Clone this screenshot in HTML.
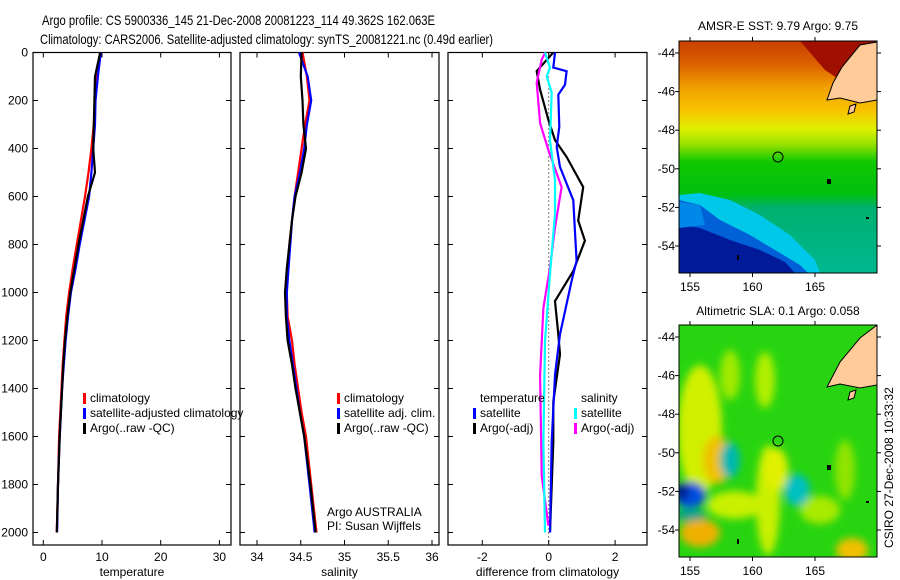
<!DOCTYPE html>
<html><head><meta charset="utf-8">
<style>
body{margin:0;background:#fff;}
svg{display:block;font-family:"Liberation Sans",sans-serif;}
text{font-size:12px;fill:#000;}
</style></head>
<body>
<svg id="fig" width="900" height="580" viewBox="0 0 900 580" xmlns="http://www.w3.org/2000/svg">
<defs>
<linearGradient id="sstg" x1="0" y1="0" x2="0" y2="1">
<stop offset="0" stop-color="#c84000"/><stop offset="0.1" stop-color="#dc6000"/>
<stop offset="0.2" stop-color="#f0a000"/><stop offset="0.3" stop-color="#f8c400"/>
<stop offset="0.38" stop-color="#e0f000"/><stop offset="0.45" stop-color="#90e000"/>
<stop offset="0.52" stop-color="#10c800"/><stop offset="0.66" stop-color="#00c010"/>
<stop offset="0.72" stop-color="#00b070"/><stop offset="1" stop-color="#00b890"/>
</linearGradient>
<filter id="blur" x="-50%" y="-50%" width="200%" height="200%"><feGaussianBlur stdDeviation="4"/></filter>
<clipPath id="cp1"><rect x="679" y="41" width="198" height="232"/></clipPath>
<clipPath id="cp2"><rect x="679" y="325" width="198" height="232"/></clipPath>
</defs>
<text x="42" y="25" style="font-size:14px" textLength="393" lengthAdjust="spacingAndGlyphs">Argo profile: CS 5900336_145 21-Dec-2008 20081223_114 49.362S 162.063E</text>
<text x="40" y="44" style="font-size:14px" textLength="453" lengthAdjust="spacingAndGlyphs">Climatology: CARS2006. Satellite-adjusted climatology: synTS_20081221.nc (0.49d earlier)</text>
<g id="panels"></g>

<!-- SST map -->
<g>
<text x="778" y="30" text-anchor="middle">AMSR-E SST: 9.79 Argo: 9.75</text>
<g clip-path="url(#cp1)">
<rect x="679" y="41" width="198" height="232" fill="url(#sstg)"/>
<polygon points="679,195 700,193 730,200 760,215 790,235 815,260 820,273 679,273" fill="#00c8e8"/>
<polygon points="679,200 700,205 720,220 750,235 775,250 800,265 808,273 679,273" fill="#0060d8"/>
<polygon points="679,225 700,228 730,240 760,250 785,262 795,273 679,273" fill="#001a9a"/>
<polygon points="679,202 700,205 705,225 679,228" fill="#0088e8"/>
<polygon points="800,41 877,41 877,60 840,80 825,70" fill="#a01000"/>
<polygon points="877,42 860,45 842,67 833,83 827,100 840,98 860,103 877,100" fill="#ffcc99" stroke="#000" stroke-width="1"/>
<polygon points="850,106 856,104 854,112 848,114" fill="#ffcc99" stroke="#000"/>
<rect x="827" y="179" width="4" height="5" fill="#000"/>
<rect x="866" y="217" width="3" height="2" fill="#000"/>
<rect x="737" y="255" width="2" height="5" fill="#000"/>
<circle cx="778" cy="157" r="5" fill="none" stroke="#000"/>
</g>
<rect x="679" y="41" width="198" height="232" fill="none" stroke="#000"/>
<g id="map1ticks"></g>
</g>

<!-- SLA map -->
<g>
<text x="778" y="315" text-anchor="middle">Altimetric SLA: 0.1 Argo: 0.058</text>
<g clip-path="url(#cp2)">
<rect x="679" y="325" width="198" height="232" fill="#28d410"/>
<g filter="url(#blur)">
<ellipse cx="700" cy="430" rx="22" ry="65" fill="#d0f000"/>
<ellipse cx="717" cy="460" rx="14" ry="24" fill="#f0c000"/>
<ellipse cx="765" cy="380" rx="10" ry="28" fill="#b0ee00"/>
<ellipse cx="730" cy="375" rx="10" ry="25" fill="#a0ea00"/>
<ellipse cx="768" cy="500" rx="12" ry="55" fill="#c8f000"/>
<ellipse cx="776" cy="470" rx="12" ry="22" fill="#e0f000"/>
<ellipse cx="735" cy="505" rx="28" ry="14" fill="#c8f000"/>
<ellipse cx="700" cy="533" rx="20" ry="14" fill="#f0b000"/>
<ellipse cx="852" cy="550" rx="16" ry="12" fill="#f0c000"/>
<ellipse cx="820" cy="510" rx="20" ry="14" fill="#a8ea00"/>
<ellipse cx="845" cy="470" rx="10" ry="30" fill="#90e400"/>
<ellipse cx="730" cy="460" rx="10" ry="18" fill="#00b8b0"/>
<ellipse cx="797" cy="490" rx="13" ry="16" fill="#00c0c0"/>
<ellipse cx="690" cy="495" rx="16" ry="13" fill="#0050e0"/>
<ellipse cx="682" cy="492" rx="7" ry="9" fill="#001a90"/>
<ellipse cx="690" cy="515" rx="16" ry="6" fill="#00a090"/>
</g>
<polygon points="877,325 860,338 840,362 827,387 840,384 860,388 877,385" fill="#ffcc99" stroke="#000"/>
<polygon points="850,392 856,390 854,398 848,400" fill="#ffcc99" stroke="#000"/>
<rect x="827" y="465" width="4" height="5" fill="#000"/>
<rect x="866" y="501" width="3" height="2" fill="#000"/>
<rect x="737" y="539" width="2" height="5" fill="#000"/>
<circle cx="778" cy="441" r="5" fill="none" stroke="#000"/>
</g>
<rect x="679" y="325" width="198" height="232" fill="none" stroke="#000"/>
<g id="map2ticks"></g>
</g>
<text transform="translate(893,548) rotate(-90)">CSIRO 27-Dec-2008 10:33:32</text>
</svg>
<script>
// ---------- data ----------
var depths = [0,100,200,300,400,500,600,700,800,900,1000,1100,1200,1300,1400,1500,1600,1800,2000];
var tempClim = [9.7,9.1,8.8,8.6,8.2,7.7,7.1,6.4,5.7,5.0,4.4,3.9,3.6,3.3,3.1,2.9,2.7,2.5,2.3];
var tempSat  = [9.8,9.3,8.9,8.8,8.5,8.2,7.8,7.0,6.2,5.5,4.7,4.2,3.8,3.5,3.2,3.0,2.8,2.5,2.35];
var tempArgo = [9.7,8.8,8.7,8.6,8.5,8.8,7.6,6.8,6.0,5.3,4.6,4.1,3.7,3.4,3.2,3.0,2.8,2.5,2.3];
var salClim = [34.52,34.57,34.60,34.55,34.51,34.47,34.43,34.40,34.37,34.35,34.34,34.35,34.40,34.43,34.47,34.51,34.56,34.62,34.68];
var salSat  = [34.48,34.58,34.62,34.57,34.54,34.49,34.43,34.40,34.38,34.36,34.34,34.34,34.37,34.41,34.45,34.49,34.54,34.60,34.66];
var salArgo = [34.51,34.50,34.52,34.53,34.56,34.51,34.44,34.40,34.37,34.34,34.32,34.33,34.35,34.40,34.44,34.49,34.54,34.61,34.67];
var dTsatDepth = [0,63,78,134,176,309,393,477,616,742,868,952,1174,1342,1623,2000];
var dTsatVal   = [0.19,0.14,0.54,0.49,0.29,0.32,0.24,0.34,0.74,0.79,0.84,0.69,0.34,0.19,0.09,0.04];
var dTargoDepth = [0,78,155,281,365,435,561,700,784,910,1036,1174,1258,1455,1623,2000];
var dTargoVal   = [0.14,-0.36,-0.26,-0.01,0.19,0.54,1.04,0.89,1.09,0.74,0.19,0.29,0.34,0.14,0.14,0.04];
var dSsatDepth = [0,63,99,168,365,532,671,923,1203,1623,2000];
var dSsatVal   = [-0.11,0.04,-0.06,0.09,0.04,0.19,0.19,0.04,-0.11,-0.16,-0.11];
var dSargoDepth = [0,29,126,294,407,561,729,896,1064,1342,1762,1972];
var dSargoVal   = [-0.1,-0.21,-0.36,-0.26,-0.01,0.39,0.19,0.04,-0.16,-0.26,-0.21,-0.01];
var depthTicks = [0,200,400,600,800,1000,1200,1400,1600,1800,2000];
var tempTicks = [0,10,20,30];
var salTicks = [34,34.5,35,35.5,36];
var diffTicks = [-2,0,2];
var lonTicks = [155,160,165];
var latTicks = [-44,-46,-48,-50,-52,-54];

// ---------- helpers ----------
var NS='http://www.w3.org/2000/svg';
var Y0=52.5, Y1=545;
function yD(d){return Y0 + d*0.24;}
function mk(tag, attrs, parent){var e=document.createElementNS(NS,tag);for(var k in attrs)e.setAttribute(k,attrs[k]);parent.appendChild(e);return e;}
var panels=document.getElementById('panels');

var defs=[
 {name:'temperature',x0:33,x1:231,xs:function(v){return 43.3+v*5.87;},ticks:tempTicks,label:'temperature'},
 {name:'salinity',x0:240,x1:439,xs:function(v){return 257+(v-34)*87.5;},ticks:salTicks,label:'salinity'},
 {name:'difference',x0:448,x1:647,xs:function(v){return 548.7+v*33.2;},ticks:diffTicks,label:'difference from climatology'}
];
function line(g,xs,ds,vs,color,name){
  var pts=[];for(var i=0;i<ds.length;i++)pts.push(xs(vs[i]).toFixed(1)+','+yD(ds[i]).toFixed(1));
  var p=mk('polyline',{points:pts.join(' '),fill:'none',stroke:color,'stroke-width':2.2},g);
  
  
}
defs.forEach(function(P,pi){
  var g=mk('g',{},panels);
  
  
  mk('rect',{x:P.x0,y:Y0,width:P.x1-P.x0,height:Y1-Y0,fill:'#fff',stroke:'#000','stroke-width':1.2},g);
  depthTicks.forEach(function(d){
    var y=yD(d);
    mk('line',{x1:P.x0,y1:y,x2:P.x0+5,y2:y,stroke:'#000'},g);
    mk('line',{x1:P.x1,y1:y,x2:P.x1-5,y2:y,stroke:'#000'},g);
    if(pi===0){var t=mk('text',{x:P.x0-5,y:y+4,'text-anchor':'end'},g);t.textContent=d;
      
      }
  });
  P.ticks.forEach(function(v){
    var x=P.xs(v);
    mk('line',{x1:x,y1:Y0,x2:x,y2:Y0+5,stroke:'#000'},g);
    mk('line',{x1:x,y1:Y1,x2:x,y2:Y1-5,stroke:'#000'},g);
    var t=mk('text',{x:x,y:561,'text-anchor':'middle'},g);t.textContent=v;
    
    
  });
  var t=mk('text',{x:(P.x0+P.x1)/2,y:576,'text-anchor':'middle'},g);t.textContent=P.label;
  
  
  if(pi===0){
    line(g,P.xs,depths,tempClim,'#f00','temp-climatology-line');
    line(g,P.xs,depths,tempSat,'#00f','temp-satellite-line');
    line(g,P.xs,depths,tempArgo,'#000','temp-argo-line');
  } else if(pi===1){
    line(g,P.xs,depths,salClim,'#f00','sal-climatology-line');
    line(g,P.xs,depths,salSat,'#00f','sal-satellite-line');
    line(g,P.xs,depths,salArgo,'#000','sal-argo-line');
  } else {
    mk('line',{x1:P.xs(0),y1:Y0,x2:P.xs(0),y2:Y1,stroke:'#000','stroke-dasharray':'1,3'},g);
    line(g,P.xs,dTargoDepth,dTargoVal,'#000','diff-temp-argo-line');
    line(g,P.xs,dTsatDepth,dTsatVal,'#00f','diff-temp-satellite-line');
    line(g,P.xs,dSargoDepth,dSargoVal,'#f0f','diff-sal-argo-line');
    line(g,P.xs,dSsatDepth,dSsatVal,'#0ff','diff-sal-satellite-line');
  }
});
function legend(x,y,items,name){
  var g=mk('g',{},panels);
  
  
  items.forEach(function(it,i){
    var yy=y+i*15;
    if(it[0])mk('rect',{x:x,y:yy-9,width:3,height:11,fill:it[0]},g);
    var t=mk('text',{x:x+7,y:yy},g);t.textContent=it[1];
    
    
  });
}
legend(83,402,[['#f00','climatology'],['#00f','satellite-adjusted climatology'],['#000','Argo(..raw -QC)']],'temp-legend');
legend(337,402,[['#f00','climatology'],['#00f','satellite adj. clim.'],['#000','Argo(..raw -QC)']],'sal-legend');
legend(473,402,[[null,'temperature'],['#00f','satellite'],['#000','Argo(-adj)']],'diff-temp-legend');
legend(574,402,[[null,'salinity'],['#0ff','satellite'],['#f0f','Argo(-adj)']],'diff-sal-legend');
var a=mk('text',{x:327,y:516},panels);a.textContent='Argo AUSTRALIA';


var b=mk('text',{x:327,y:530},panels);b.textContent='PI: Susan Wijffels';



function mapTicks(id,top){
  var g=document.getElementById(id);
  lonTicks.forEach(function(lo){
    var x=690+(lo-155)*12.5;
    mk('line',{x1:x,y1:top,x2:x,y2:top-4,stroke:'#000'},g);
    mk('line',{x1:x,y1:top+232,x2:x,y2:top+236,stroke:'#000'},g);
    var t=mk('text',{x:x,y:top+250,'text-anchor':'middle'},g);t.textContent=lo;
    
    
  });
  latTicks.forEach(function(la){
    var y=top+12+(-44-la)*19.3;
    mk('line',{x1:679,y1:y,x2:675,y2:y,stroke:'#000'},g);
    mk('line',{x1:877,y1:y,x2:881,y2:y,stroke:'#000'},g);
    var t=mk('text',{x:675,y:y+4,'text-anchor':'end'},g);t.textContent=la;
    
    
  });
}
mapTicks('map1ticks',41);
mapTicks('map2ticks',325);
</script>
</body></html>
